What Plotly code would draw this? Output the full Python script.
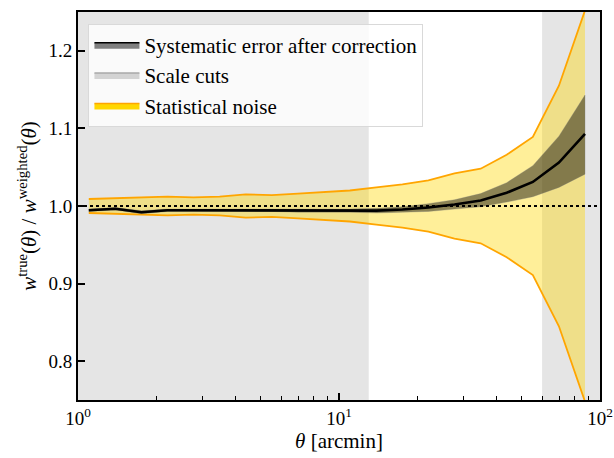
import plotly.graph_objects as go

# angular bins [arcmin]
theta = [1.10, 1.39, 1.75, 2.20, 2.77, 3.49, 4.39, 5.53, 6.96, 8.76,
         11.0, 13.9, 17.5, 22.0, 27.7, 34.9, 43.9, 55.3, 69.6, 87.6]

# w_true / w_weighted
ratio = [0.9945, 0.9965, 0.992, 0.9945, 0.9945, 0.9945, 0.9945, 0.9945, 0.9945, 0.994,
         0.994, 0.994, 0.9955, 0.998, 1.002, 1.007, 1.017, 1.031, 1.056, 1.093]
sys_hi = [0.996, 0.998, 0.994, 0.996, 0.996, 0.996, 0.996, 0.996, 0.996, 0.996,
          0.996, 0.997, 0.999, 1.003, 1.008, 1.016, 1.030, 1.052, 1.090, 1.143]
sys_lo = [0.993, 0.995, 0.990, 0.993, 0.993, 0.993, 0.993, 0.993, 0.992, 0.992,
          0.992, 0.991, 0.992, 0.993, 0.996, 0.999, 1.005, 1.012, 1.024, 1.041]

# statistical noise band
noise_hi = [1.009, 1.010, 1.011, 1.012, 1.011, 1.012, 1.015, 1.014, 1.016, 1.018,
            1.020, 1.024, 1.028, 1.033, 1.042, 1.048, 1.066, 1.089, 1.155, 1.252]
noise_lo = [0.991, 0.990, 0.989, 0.988, 0.989, 0.988, 0.985, 0.986, 0.984, 0.982,
            0.980, 0.976, 0.972, 0.967, 0.958, 0.952, 0.934, 0.911, 0.845, 0.748]

# scale cuts [arcmin]
cut_small = [1.0, 13.0]
cut_large = [60.0, 100.0]

y_range = [0.75, 1.25]
x_range = [1.0, 100.0]

FONT = "Liberation Serif, DejaVu Serif, serif"

fig = go.Figure()


def box(xs):
    return [xs[0], xs[1], xs[1], xs[0], xs[0]], [y_range[0], y_range[0], y_range[1], y_range[1], y_range[0]]


for xs in (cut_small, cut_large):
    bx, by = box(xs)
    fig.add_trace(go.Scatter(
        x=bx, y=by, mode="lines", fill="toself",
        fillcolor="rgba(211,211,211,0.6)", line=dict(width=0),
        showlegend=False, hoverinfo="skip"
    ))

# statistical noise
fig.add_trace(go.Scatter(
    x=theta + theta[::-1], y=noise_hi + noise_lo[::-1],
    mode="lines", fill="toself", fillcolor="rgba(255,215,0,0.4)",
    line=dict(width=0), showlegend=False, hoverinfo="skip"
))
fig.add_trace(go.Scatter(x=theta, y=noise_hi, mode="lines",
                         line=dict(color="orange", width=1.8), showlegend=False))
fig.add_trace(go.Scatter(x=theta, y=noise_lo, mode="lines",
                         line=dict(color="orange", width=1.8), showlegend=False))

# systematic error band
fig.add_trace(go.Scatter(
    x=theta + theta[::-1], y=sys_hi + sys_lo[::-1],
    mode="lines", fill="toself", fillcolor="rgba(0,0,0,0.45)",
    line=dict(width=0.6, color="rgba(120,120,120,0.5)"),
    showlegend=False, hoverinfo="skip"
))
fig.add_trace(go.Scatter(x=theta, y=ratio, mode="lines",
                         line=dict(color="black", width=2.6), showlegend=False))

# reference line
fig.add_trace(go.Scatter(x=x_range, y=[1.0, 1.0], mode="lines",
                         line=dict(color="black", width=1.8, dash="dot"), showlegend=False))

# legend proxies
legend_items = [
    ("Systematic error after correction", "grey", "black"),
    ("Scale cuts", "lightgrey", "darkgrey"),
    ("Statistical noise", "gold", "orange"),
]
for name, fc, lc in legend_items:
    fig.add_trace(go.Scatter(
        x=[None], y=[None], mode="lines", fill="toself",
        fillcolor=fc, line=dict(color=lc, width=1.5), name=name
    ))

minor_x = [2, 3, 4, 5, 6, 7, 8, 9, 20, 30, 40, 50, 60, 70, 80, 90]

fig.update_layout(
    width=614, height=458,
    margin=dict(l=78, r=14, t=12, b=58),
    plot_bgcolor="white", paper_bgcolor="white",
    font=dict(family=FONT, size=19, color="black"),
    legend=dict(
        x=0.02, y=0.97, xanchor="left", yanchor="top",
        bgcolor="rgba(255,255,255,0.8)", bordercolor="#d9d9d9", borderwidth=1,
        font=dict(family=FONT, size=21), itemwidth=45, tracegroupgap=2
    ),
    xaxis=dict(
        type="log", range=[0, 2], automargin=False,
        tickvals=[1, 10, 100], ticktext=["10<sup>0</sup>", "10<sup>1</sup>", "10<sup>2</sup>"],
        ticks="inside", ticklen=7, tickwidth=1.5, tickcolor="black",
        minor=dict(tickvals=minor_x, ticks="inside", ticklen=4, tickwidth=1.2, tickcolor="black"),
        showgrid=False, zeroline=False,
        showline=True, mirror=True, linecolor="black", linewidth=2,
        title=dict(text="<i>θ</i> [arcmin]", standoff=4, font=dict(size=21)),
    ),
    yaxis=dict(
        range=y_range, automargin=False,
        tickvals=[0.8, 0.9, 1.0, 1.1, 1.2], ticktext=["0.8", "0.9", "1.0", "1.1", "1.2"],
        ticks="inside", ticklen=7, tickwidth=1.5, tickcolor="black",
        showgrid=False, zeroline=False,
        showline=True, mirror=True, linecolor="black", linewidth=2,
        title=dict(text="<i>w</i><sup>true</sup>(<i>θ</i>) / <i>w</i><sup>weighted</sup>(<i>θ</i>)",
                   standoff=6, font=dict(size=21)),
    ),
)

fig.write_html("out.html", config={"displayModeBar": False},
               post_script="document.body.style.margin='0';")
